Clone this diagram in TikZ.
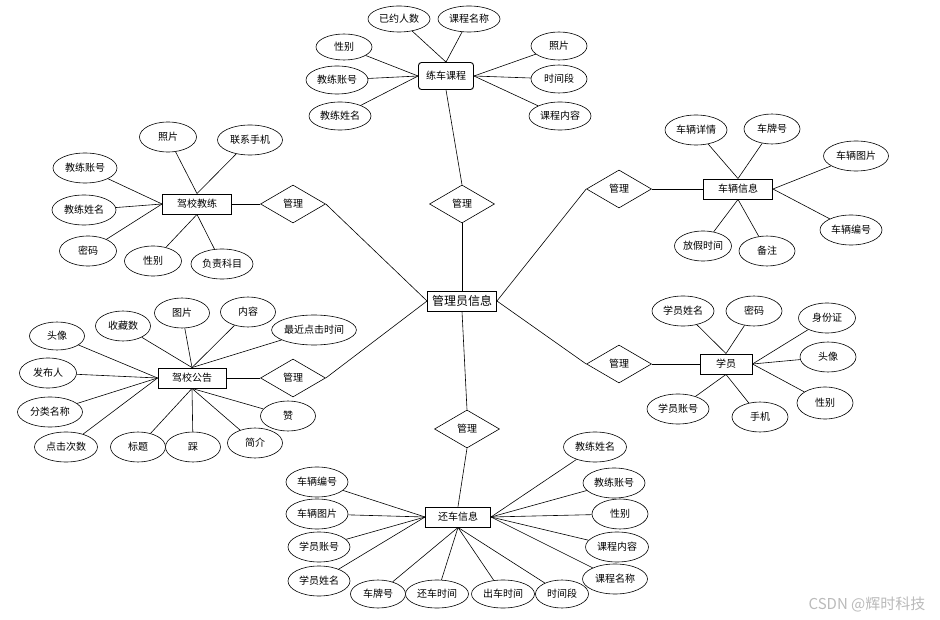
\documentclass[tikz,border=0pt]{standalone}
\usepackage{fontspec}
\newfontfamily\cjk{Noto Sans CJK SC}
\usetikzlibrary{shapes.geometric}
\tikzset{
	ent/.style={draw, line width=0.9pt, fill=white, inner sep=0pt, minimum height=20pt, font=\cjk\fontsize{10}{12}\selectfont},
	attr/.style={draw, ellipse, line width=0.6pt, fill=white, inner sep=0pt, minimum width=62pt, minimum height=30pt, font=\cjk\fontsize{10}{12}\selectfont},
	rel/.style={draw, diamond, line width=0.6pt, fill=white, inner sep=0pt, aspect=1.7, minimum width=65pt, minimum height=38pt, font=\cjk\fontsize{10}{12}\selectfont},
	link/.style={line width=0.6pt}
}

\begin{document}
\begin{tikzpicture}[x=1pt, y=-1pt]
			%%%%% START %%%%%
			\useasboundingbox (0, 0) rectangle (940, 620);
			
			% centre
			\node[ent, minimum width=69pt, font=\cjk\fontsize{12}{14}\selectfont] (admin) at (462, 301) {管理员信息};
			
			% top: course
			\node[ent, rounded corners=3pt, minimum width=55pt, minimum height=27pt] (course) at (446, 76) {练车课程};
			\node[attr, minimum height=26pt] (cnum) at (399, 19) {已约人数};
			\node[attr, minimum height=26pt] (cname) at (469, 19) {课程名称};
			\node[attr, minimum width=56pt, minimum height=26pt] (csex) at (344, 47) {性别};
			\node[attr, minimum height=28pt] (cacc) at (337, 80) {教练账号};
			\node[attr, minimum height=28pt] (cteach) at (340, 116) {教练姓名};
			\node[attr, minimum width=56pt, minimum height=28pt] (cphoto) at (559, 46) {照片};
			\node[attr, minimum width=56pt, minimum height=28pt] (ctime) at (559, 79) {时间段};
			\node[attr, minimum height=28pt] (ctext) at (560, 116) {课程内容};
			\node[rel] (r1) at (462, 204) {管理};
			
			\draw[link] (course.north) -- (cnum);
			\draw[link] (course.north) -- (cname);
			\draw[link] (course.west) -- (csex);
			\draw[link] (course.west) -- (cacc);
			\draw[link] (course.west) -- (cteach);
			\draw[link] (course.east) -- (cphoto);
			\draw[link] (course.east) -- (ctime);
			\draw[link] (course.east) -- (ctext);
			\draw[link] (course.south) -- (r1.north);
			\draw[link] (r1.south) -- (admin.north);
			
			% upper left: coach
			\node[ent, minimum width=69pt] (coach) at (197, 204) {驾校教练};
			\node[attr, minimum width=57pt] (kphoto) at (168, 137) {照片};
			\node[attr, minimum width=65pt] (kphone) at (250, 140) {联系手机};
			\node[attr, minimum width=64pt] (kacc) at (85, 168) {教练账号};
			\node[attr, minimum width=64pt] (kname) at (84, 210) {教练姓名};
			\node[attr, minimum width=57pt] (kpwd) at (88, 251) {密码};
			\node[attr, minimum width=57pt] (ksex) at (153, 261) {性别};
			\node[attr] (ksub) at (222, 264) {负责科目};
			\node[rel] (r2) at (293, 204) {管理};
			
			\draw[link] (coach.north) -- (kphoto);
			\draw[link] (coach.north) -- (kphone);
			\draw[link] (coach.west) -- (kacc);
			\draw[link] (coach.west) -- (kname);
			\draw[link] (coach.west) -- (kpwd);
			\draw[link] (coach.south) -- (ksex);
			\draw[link] (coach.south) -- (ksub);
			\draw[link] (coach.east) -- (r2.west);
			\draw[link] (r2.east) -- (admin.west);
			
			% upper right: car
			\node[ent, minimum width=69pt] (car) at (738, 189) {车辆信息};
			\node[attr] (vdet) at (696, 130) {车辆详情};
			\node[attr, minimum width=56pt] (vplate) at (772, 129) {车牌号};
			\node[attr, minimum width=65pt] (vpic) at (856, 156) {车辆图片};
			\node[attr] (vnum) at (851, 230) {车辆编号};
			\node[attr, minimum width=57pt] (vhol) at (703, 246) {放假时间};
			\node[attr, minimum width=56pt] (vnote) at (767, 251) {备注};
			\node[rel] (r3) at (619, 189) {管理};
			
			\draw[link] (car.north) -- (vdet);
			\draw[link] (car.north) -- (vplate);
			\draw[link] (car.east) -- (vpic);
			\draw[link] (car.east) -- (vnum);
			\draw[link] (car.south) -- (vhol);
			\draw[link] (car.south) -- (vnote);
			\draw[link] (r3.east) -- (car.west);
			\draw[link] (admin.east) -- (r3.west);
			
			% lower left: notice
			\node[ent, minimum width=68pt] (notice) at (192, 378) {驾校公告};
			\node[attr, minimum width=55pt, minimum height=28pt] (nhead) at (57, 336) {头像};
			\node[attr, minimum width=55pt] (nfav) at (123, 326) {收藏数};
			\node[attr, minimum width=55pt] (npic) at (182, 313) {图片};
			\node[attr, minimum width=55pt] (ntext) at (248, 312) {内容};
			\node[attr, minimum width=82pt] (nlast) at (314, 330) {最近点击时间};
			\node[attr, minimum width=57pt] (nauth) at (48, 373) {发布人};
			\node[attr, minimum width=65pt] (ncat) at (50, 412) {分类名称};
			\node[attr, minimum width=63pt] (nhits) at (66, 447) {点击次数};
			\node[attr, minimum width=55pt] (ntitle) at (138, 447) {标题};
			\node[attr, minimum width=55pt] (ndown) at (193, 447) {踩};
			\node[attr, minimum width=55pt] (nbrief) at (255, 443) {简介};
			\node[attr, minimum width=55pt] (nup) at (288, 416) {赞};
			\node[rel] (r4) at (293, 378) {管理};
			
			\draw[link] (notice.north) -- (nfav);
			\draw[link] (notice.north) -- (npic);
			\draw[link] (notice.north) -- (ntext);
			\draw[link] (notice.north) -- (nlast);
			\draw[link] (notice.west) -- (nhead);
			\draw[link] (notice.west) -- (nauth);
			\draw[link] (notice.west) -- (ncat);
			\draw[link] (notice.west) -- (nhits);
			\draw[link] (notice.south) -- (ntitle);
			\draw[link] (notice.south) -- (ndown);
			\draw[link] (notice.south) -- (nbrief);
			\draw[link] (notice.south) -- (nup);
			\draw[link] (notice.east) -- (r4.west);
			\draw[link] (r4.east) -- (admin.west);
			
			% lower right: student
			\node[ent, minimum width=52pt] (stu) at (726, 364) {学员};
			\node[attr] (sname) at (683, 311) {学员姓名};
			\node[attr, minimum width=56pt] (spwd) at (754, 311) {密码};
			\node[attr, minimum width=57pt] (sid) at (827, 318) {身份证};
			\node[attr, minimum width=56pt] (shead) at (828, 357) {头像};
			\node[attr, minimum width=56pt, minimum height=32pt] (ssex) at (825, 403) {性别};
			\node[attr] (sacc) at (678, 409) {学员账号};
			\node[attr, minimum width=56pt] (sphone) at (760, 417) {手机};
			\node[rel] (r5) at (619, 364) {管理};
			
			\draw[link] (stu.north) -- (sname);
			\draw[link] (stu.north) -- (spwd);
			\draw[link] (stu.east) -- (sid);
			\draw[link] (stu.east) -- (shead);
			\draw[link] (stu.east) -- (ssex);
			\draw[link] (stu.south) -- (sacc);
			\draw[link] (stu.south) -- (sphone);
			\draw[link] (r5.east) -- (stu.west);
			\draw[link] (admin.east) -- (r5.west);
			
			% bottom: return
			\node[ent, minimum width=65pt] (ret) at (458, 517) {还车信息};
			\node[rel] (r6) at (467, 429) {管理};
			\node[attr] (bnum) at (317, 482) {车辆编号};
			\node[attr] (bpic) at (317, 514) {车辆图片};
			\node[attr] (bacc) at (319, 547) {学员账号};
			\node[attr] (bname) at (319, 581) {学员姓名};
			\node[attr, minimum width=55pt, minimum height=28pt] (bplate) at (378, 594) {车牌号};
			\node[attr, minimum width=63pt, minimum height=28pt] (bback) at (437, 594) {还车时间};
			\node[attr, minimum width=63pt, minimum height=28pt] (bout) at (503, 594) {出车时间};
			\node[attr, minimum width=53pt, minimum height=28pt] (btime) at (562, 594) {时间段};
			\node[attr, minimum width=63pt] (bteach) at (595, 447) {教练姓名};
			\node[attr] (bcacc) at (614, 483) {教练账号};
			\node[attr, minimum width=56pt] (bsex) at (620, 514) {性别};
			\node[attr, minimum width=63pt] (btext) at (617, 547) {课程内容};
			\node[attr, minimum width=65pt] (bcname) at (615, 579) {课程名称};
			
			\draw[link] (admin.south) -- (r6.north);
			\draw[link] (r6.south) -- (ret.north);
			\draw[link] (ret.west) -- (bnum);
			\draw[link] (ret.west) -- (bpic);
			\draw[link] (ret.west) -- (bacc);
			\draw[link] (ret.west) -- (bname);
			\draw[link] (ret.south) -- (bplate);
			\draw[link] (ret.south) -- (bback);
			\draw[link] (ret.south) -- (bout);
			\draw[link] (ret.south) -- (btime);
			\draw[link] (ret.east) -- (bteach);
			\draw[link] (ret.east) -- (bcacc);
			\draw[link] (ret.east) -- (bsex);
			\draw[link] (ret.east) -- (btext);
			\draw[link] (ret.east) -- (bcname);
			
			% watermark
			\node[text=black!27, font=\cjk\fontsize{15}{17}\selectfont, inner sep=0pt] (mark) at (867, 604) {CSDN @辉时科技};
			%%%%% END %%%%%
\end{tikzpicture}
\end{document}
